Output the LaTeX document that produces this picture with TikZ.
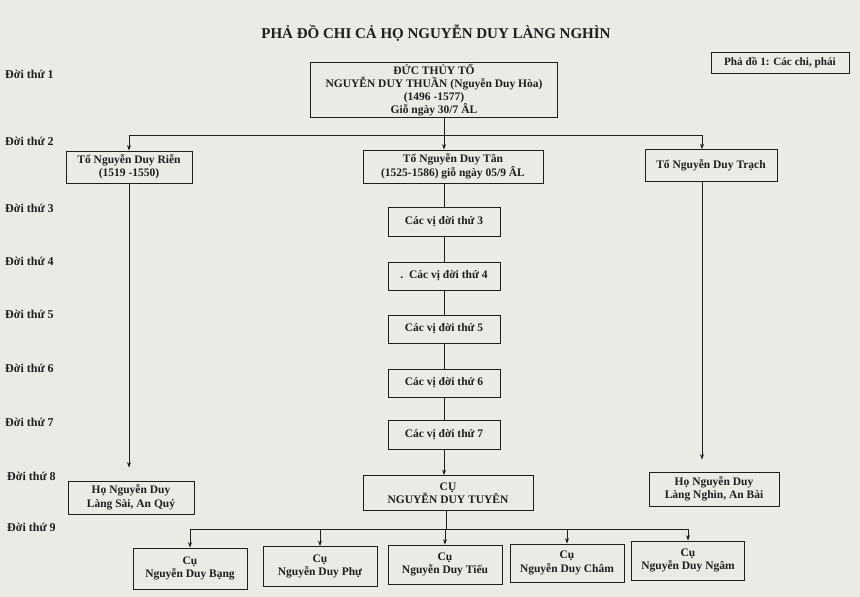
\documentclass[tikz,border=0pt]{standalone}
\usepackage{fontspec}
\setmainfont{Liberation Serif}
\usetikzlibrary{arrows.meta,calc}
\definecolor{paper}{RGB}{236,234,229}
\definecolor{ink}{RGB}{30,30,30}
\begin{document}
\begin{tikzpicture}[x=1pt,y=-1pt,
  box/.style={draw=ink, line width=0.8pt, fill=paper, align=center, text=ink,
    font=\bfseries\fontsize{11.5}{13.5}\selectfont, inner sep=0pt},
  genlbl/.style={anchor=west, text=ink, font=\bfseries\fontsize{12}{13}\selectfont, inner sep=0pt},
  ln/.style={draw=ink, line width=0.7pt},
  arr/.style={ln, -{Stealth[length=5.5pt,width=4pt]}}]
\path[use as bounding box, fill=paper] (0,0) rectangle (860,597);

\node[text=ink, font=\bfseries\fontsize{15}{17}\selectfont] (title) at (436,33) {PHẢ ĐỒ CHI CẢ HỌ NGUYỄN DUY LÀNG NGHÌN};
\node[box, minimum width=138pt, minimum height=21pt, font=\bfseries\fontsize{11.2}{13}\selectfont] (pd) at (780,62.5) {Phả đồ 1: Các chi, phái};

% generation labels
\node[genlbl] (g1) at (5,74) {Đời thứ 1};
\node[genlbl] (g2) at (5,141) {Đời thứ 2};
\node[genlbl] (g3) at (5,208) {Đời thứ 3};
\node[genlbl] (g4) at (5,261) {Đời thứ 4};
\node[genlbl] (g5) at (5,314) {Đời thứ 5};
\node[genlbl] (g6) at (5,368) {Đời thứ 6};
\node[genlbl] (g7) at (5,422) {Đời thứ 7};
\node[genlbl] (g8) at (7,476) {Đời thứ 8};
\node[genlbl] (g9) at (7,527) {Đời thứ 9};

% boxes
\node[box, minimum width=247pt, minimum height=55pt, font=\bfseries\fontsize{11.5}{13}\selectfont] (root) at (434,90) {ĐỨC THỦY TỔ\\NGUYỄN DUY THUẦN (Nguyễn Duy Hòa)\\(1496 -1577)\\Giỗ ngày 30/7 ÂL};
\node[box, minimum width=126pt, minimum height=32pt] (rien) at (129,167) {Tổ Nguyễn Duy Riễn\\(1519 -1550)};
\node[box, minimum width=180pt, minimum height=33pt] (tan) at (453,166.5) {Tổ Nguyễn Duy Tân\\(1525-1586) giỗ ngày 05/9 ÂL};
\node[box, minimum width=132pt, minimum height=32pt] (trach) at (711,165.5) {Tổ Nguyễn Duy Trạch};

\node[box, minimum width=112pt, minimum height=29pt] (c3) at (444,221.5) {Các vị đời thứ 3};
\node[box, minimum width=112pt, minimum height=28pt] (c4) at (444,276) {.\ \ Các vị đời thứ 4};
\node[box, minimum width=112pt, minimum height=28pt] (c5) at (444,329) {Các vị đời thứ 5};
\node[box, minimum width=112pt, minimum height=28pt] (c6) at (444,383) {Các vị đời thứ 6};
\node[box, minimum width=112pt, minimum height=29pt] (c7) at (444,434.5) {Các vị đời thứ 7};

\node[box, minimum width=170pt, minimum height=35pt] (tuyen) at (448,493) {CỤ\\NGUYỄN DUY TUYÊN};
\node[box, minimum width=126pt, minimum height=33pt] (sai) at (131,497.5) {Họ Nguyễn Duy\\Làng Sài, An Quý};
\node[box, minimum width=130pt, minimum height=34pt] (nghin) at (714,489) {Họ Nguyễn Duy\\Làng Nghìn, An Bài};

\node[box, minimum width=114pt, minimum height=41pt] (b1) at (190,568.5) {Cụ\\Nguyễn Duy Bạng};
\node[box, minimum width=114pt, minimum height=40pt] (b2) at (320,566.5) {Cụ\\Nguyễn Duy Phự};
\node[box, minimum width=114pt, minimum height=39pt] (b3) at (445,564.5) {Cụ\\Nguyễn Duy Tiếu};
\node[box, minimum width=114pt, minimum height=38pt] (b4) at (567,563) {Cụ\\Nguyễn Duy Châm};
\node[box, minimum width=113pt, minimum height=39pt] (b5) at (688,560.5) {Cụ\\Nguyễn Duy Ngâm};

% connectors
\coordinate (j2) at (444,135);
\coordinate (colR) at (702,0);
\draw[ln] (root.south -| j2) -- (j2);
\draw[ln] (j2 -| rien) -- (j2 -| colR);
\draw[arr] (j2 -| rien) -- (rien.north);
\draw[arr] (j2) -- (tan.north -| j2);
\draw[arr] (j2 -| colR) -- (trach.north -| colR);

\draw[arr, shorten >=13pt] (rien.south) -- (rien.south |- sai.north);
\draw[arr, shorten >=12pt] (trach.south -| colR) -- (nghin.north -| colR);

\draw[ln] (tan.south -| c3) -- (c3.north);
\draw[ln] (c3.south) -- (c4.north);
\draw[ln] (c4.south) -- (c5.north);
\draw[ln] (c5.south) -- (c6.north);
\draw[ln] (c6.south) -- (c7.north);
\draw[arr] (c7.south) -- (c7.south |- tuyen.north);

\coordinate (j9) at (446,529);
\draw[ln] (tuyen.south -| j9) -- (j9);
\draw[ln] (j9 -| b1) -- (j9 -| b5);
\foreach \n in {b1,b2,b3,b4,b5} \draw[arr] (j9 -| \n) -- (\n.north);
\end{tikzpicture}
\end{document}
